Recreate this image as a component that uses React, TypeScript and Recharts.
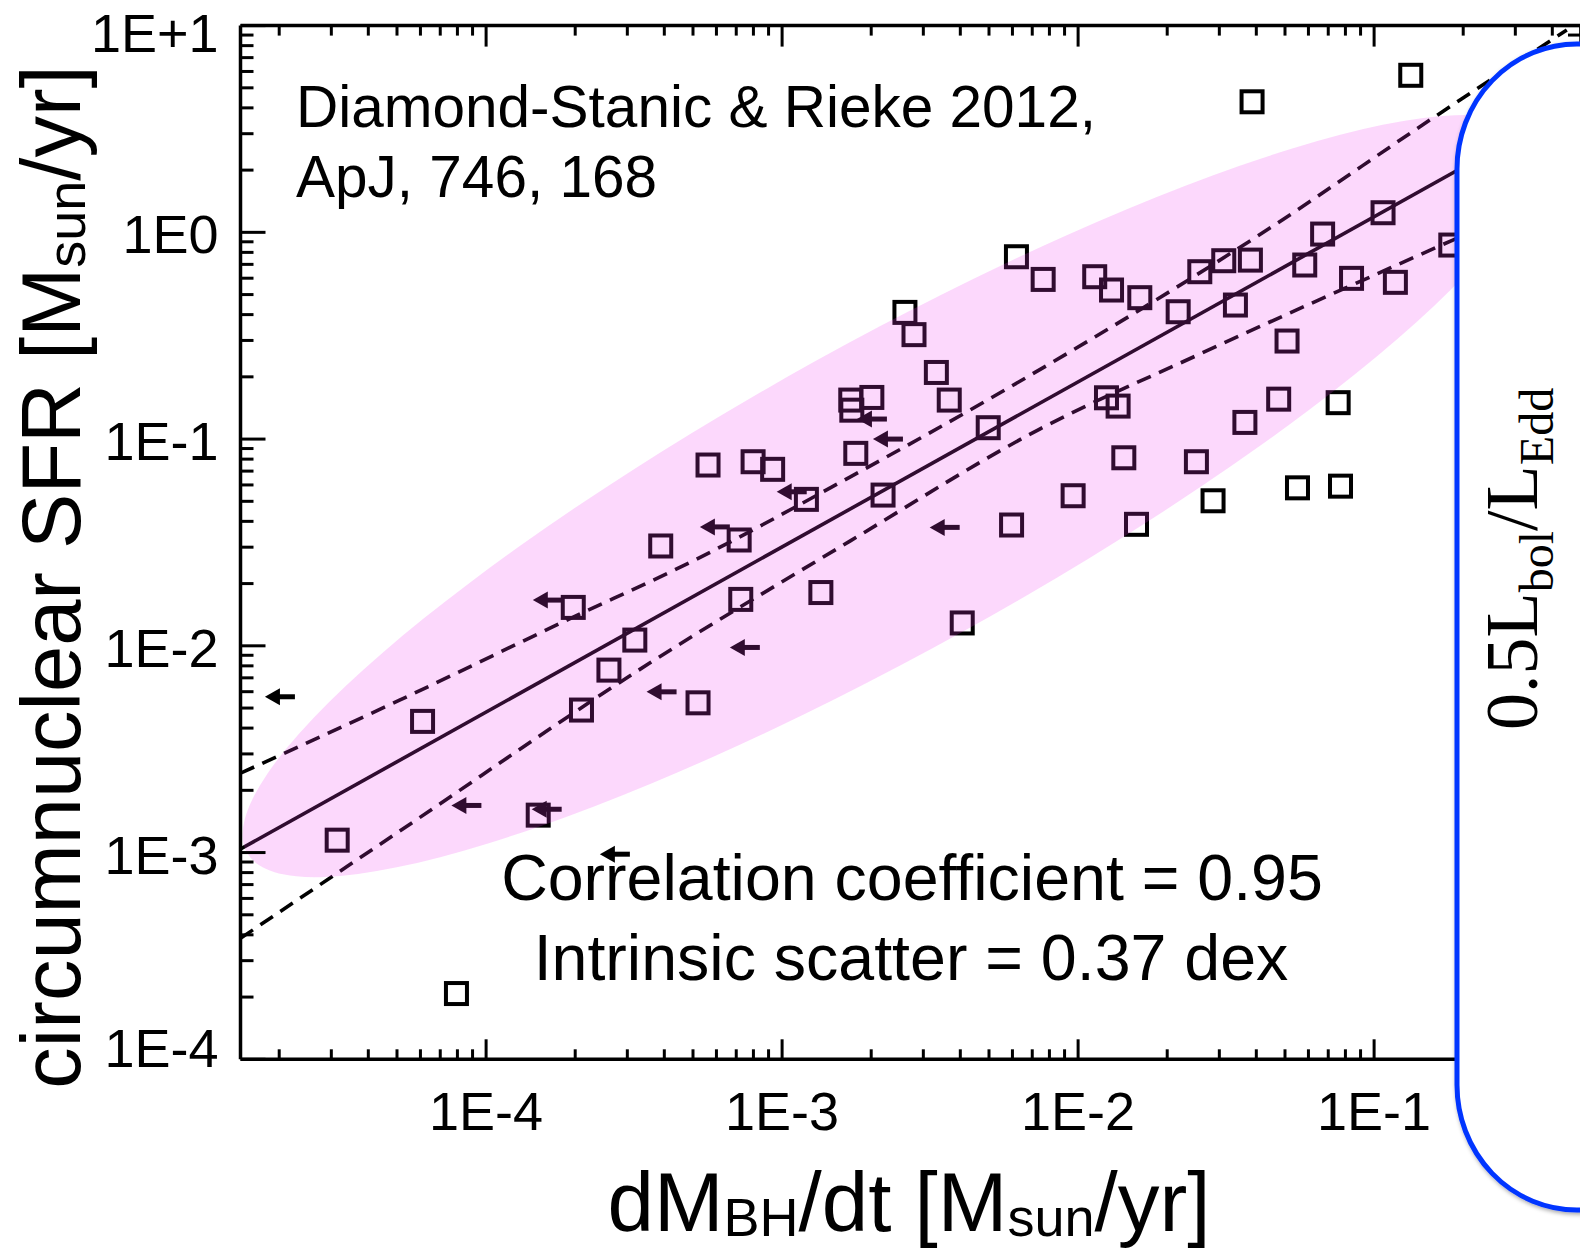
import React from 'react';
import { ComposedChart, Scatter, Line, XAxis, YAxis } from 'recharts';

// ---------- data ----------
const X_MIN = 1.48e-5;
const X_MAX = 0.5;
const Y_MIN = 1e-4;
const Y_MAX = 10;

const X_MAJOR = [1e-4, 1e-3, 1e-2, 1e-1];
const X_LABELS = ['1E-4', '1E-3', '1E-2', '1E-1'];
const Y_MAJOR = [1e-4, 1e-3, 1e-2, 1e-1, 1, 10];
const Y_LABELS = ['1E-4', '1E-3', '1E-2', '1E-1', '1E0', '1E+1'];

// detections (open squares)
const SQUARE_X = [
  0.133, 0.0387, 0.00619, 0.00762, 0.01138, 0.01297, 0.01616, 0.02178, 0.02577, 0.03105,
  0.0382, 0.034, 0.0583, 0.067, 0.1072, 0.0839, 0.118, 0.1816, 0.0508, 0.0476,
  0.0756, 0.0366, 0.01247, 0.01365, 0.01427, 0.0251, 0.0551, 0.077, 0.00962, 0.02857,
  0.00596, 0.01575, 0.00406, 0.00497, 0.00367, 0.00332, 0.00279, 0.0026, 0.00201, 0.001706,
  0.00172, 0.001774, 0.002193, 0.001208, 0.000929, 0.000798, 0.000562, 0.000716, 0.000389, 0.001352,
  0.000725, 0.000197, 0.000318, 0.00026, 0.00021, 0.00052, 6.1e-5, 3.14e-5, 0.00015, 7.94e-5,
];
const SQUARE_Y = [
  5.75, 4.28, 0.762, 0.592, 0.61, 0.526, 0.483, 0.413, 0.645, 0.729,
  0.734, 0.445, 0.695, 0.981, 1.244, 0.599, 0.573, 0.868, 0.298, 0.156,
  0.15, 0.1204, 0.1584, 0.1444, 0.0812, 0.0777, 0.0581, 0.0592, 0.0532, 0.0503,
  0.0384, 0.0387, 0.0129, 0.1135, 0.1544, 0.21, 0.32, 0.41, 0.159, 0.1544,
  0.138, 0.0853, 0.0536, 0.0511, 0.0714, 0.0777, 0.0749, 0.0325, 0.0304, 0.0181,
  0.01677, 0.01534, 0.01066, 0.00763, 0.00489, 0.0053, 0.00431, 0.001148, 0.001517, 0.000208,
];

// upper limits on accretion rate (left arrows)
const LIMIT_X = [2.26e-5, 9.64e-5, 1.8e-4, 3.06e-4, 1.816e-4, 4.4e-4, 8.41e-4, 6.66e-4, 1.211e-3, 2.26e-3, 2.56e-3, 3.98e-3];
const LIMIT_Y = [0.00567, 0.00169, 0.00162, 0.000982, 0.01664, 0.00599, 0.00982, 0.0376, 0.0556, 0.125, 0.1, 0.0374];

// best fit
const FIT_X = [1.48e-5, 0.5];
const FIT_Y = [1.04e-3, 4.3];

// dashed envelopes
const UPPER_X = [1.48e-5, 5.1e-5, 1.875e-4, 4.99e-4, 1.695e-3, 5.43e-3, 0.0434, 0.1579, 0.4477];
const UPPER_Y = [2.42e-3, 5.46e-3, 0.01331, 0.0257, 0.0655, 0.167, 1.026, 3.57, 9.52];
const LOWER_X = [1.48e-5, 5.1e-5, 3.57e-4, 1.695e-3, 7.42e-3, 0.02576, 0.1845, 0.5];
const LOWER_Y = [3.85e-4, 1.269e-3, 8.25e-3, 0.0321, 0.1118, 0.2577, 0.918, 1.732];

// pink ellipse: centre, end of major semi-axis, end of minor semi-axis
const ELLIPSE_X = [2.31e-3, 0.343, 4.13e-3];
const ELLIPSE_Y = [0.053, 2.81, 0.01182];

// ---------- derived tables ----------
const zip = (xs: number[], ys: number[]) => xs.map((x, i) => ({ x, y: ys[i] }));
const squares = zip(SQUARE_X, SQUARE_Y);
const limits = zip(LIMIT_X, LIMIT_Y);
const fit = zip(FIT_X, FIT_Y);
const upper = zip(UPPER_X, UPPER_Y);
const lower = zip(LOWER_X, LOWER_Y);
const ellipse = zip(ELLIPSE_X, ELLIPSE_Y);

const withMinors = (lo: number, hi: number) => {
  const out: number[] = [];
  for (let k = Math.floor(Math.log10(lo)); k <= Math.ceil(Math.log10(hi)); k++) {
    for (let m = 1; m <= 9; m++) {
      const v = m * Math.pow(10, k);
      if (v >= lo * 0.999999 && v <= hi * 1.000001) out.push(v);
    }
  }
  return out;
};
const X_TICKS = withMinors(X_MIN, X_MAX);
const Y_TICKS = withMinors(Y_MIN, Y_MAX);

const majorIndex = (v: number, majors: number[]) =>
  majors.findIndex((m) => Math.abs(Math.log10(v) - Math.log10(m)) < 1e-6);

const SANS = '"Liberation Sans", Arial, Helvetica, sans-serif';
const TICK_FONT = 54;
const INK = '#000';

const BottomTick = (p: any) => {
  const { x, y, payload } = p;
  const i = majorIndex(payload.value, X_MAJOR);
  return (
    <g>
      <line x1={x} x2={x} y1={y} y2={y - (i >= 0 ? 20 : 10)} stroke={INK} strokeWidth={3} />
      {i >= 0 && (
        <text x={x} y={y + 71} textAnchor="middle" fontSize={TICK_FONT} fontFamily={SANS} fill={INK}>
          {X_LABELS[i]}
        </text>
      )}
    </g>
  );
};
const TopTick = (p: any) => {
  const { x, y, payload } = p;
  const i = majorIndex(payload.value, X_MAJOR);
  return <line x1={x} x2={x} y1={y} y2={y + (i >= 0 ? 21 : 10)} stroke={INK} strokeWidth={3} />;
};
const LeftTick = (p: any) => {
  const { x, y, payload } = p;
  const i = majorIndex(payload.value, Y_MAJOR);
  const off = i === 0 ? 8 : i === Y_MAJOR.length - 1 ? 26 : 21;
  return (
    <g>
      <line x1={x} x2={x + (i >= 0 ? 25 : 13)} y1={y} y2={y} stroke={INK} strokeWidth={3} />
      {i >= 0 && (
        <text x={x - 22} y={y + off} textAnchor="end" fontSize={TICK_FONT} fontFamily={SANS} fill={INK}>
          {Y_LABELS[i]}
        </text>
      )}
    </g>
  );
};
const RightTick = (p: any) => {
  const { x, y, payload } = p;
  const i = majorIndex(payload.value, Y_MAJOR);
  return <line x1={x} x2={x - (i >= 0 ? 25 : 13)} y1={y} y2={y} stroke={INK} strokeWidth={3} />;
};

const SquareShape = (p: any) => {
  const { cx, cy } = p;
  if (cx == null || cy == null) return <g />;
  return <rect x={cx - 10.5} y={cy - 10.5} width={21} height={21} fill="none" stroke={INK} strokeWidth={4} />;
};
const ArrowShape = (p: any) => {
  const { cx, cy } = p;
  if (cx == null || cy == null) return <g />;
  return (
    <g>
      <line x1={cx} y1={cy} x2={cx - 16} y2={cy} stroke={INK} strokeWidth={5} />
      <polygon points={`${cx - 30},${cy} ${cx - 15},${cy - 8.5} ${cx - 15},${cy + 8.5}`} fill={INK} />
    </g>
  );
};
const Nothing = () => <g />;
const EllipseFill = (lp: any) => {
  const pts = lp.points || [];
  if (pts.length < 3) return <g />;
  const [c, a, b] = pts;
  const m = `matrix(${a.x - c.x},${a.y - c.y},${b.x - c.x},${b.y - c.y},${c.x},${c.y})`;
  return <circle cx={0} cy={0} r={1} transform={m} fill="rgb(240,60,240)" fillOpacity={0.2} stroke="none" />;
};

const axisLine = { stroke: INK, strokeWidth: 3.5 };

export default function App() {
  return (
    <div style={{ position: 'fixed', left: 0, top: 0, width: 1580, height: 1248, overflow: 'hidden', background: '#fff' }}>
      <ComposedChart width={1582} height={1248} margin={{ top: 24.6, right: 0, bottom: 0, left: 0 }}>
        <XAxis
          xAxisId="b" type="number" dataKey="x" scale="log" domain={[X_MIN, X_MAX]} allowDataOverflow
          ticks={X_TICKS} interval={0} tickSize={0} tickMargin={0} height={188.7}
          axisLine={axisLine} tickLine={false} tick={BottomTick}
        />
        <XAxis
          xAxisId="t" orientation="top" type="number" dataKey="x" scale="log" domain={[X_MIN, X_MAX]} allowDataOverflow
          ticks={X_TICKS} interval={0} tickSize={0} tickMargin={0} height={1}
          axisLine={axisLine} tickLine={false} tick={TopTick}
        />
        <YAxis
          yAxisId="l" type="number" dataKey="y" scale="log" domain={[Y_MIN, Y_MAX]} allowDataOverflow
          ticks={Y_TICKS} interval={0} tickSize={0} tickMargin={0} width={240.5}
          axisLine={axisLine} tickLine={false} tick={LeftTick}
        />
        <YAxis
          yAxisId="r" orientation="right" type="number" dataKey="y" scale="log" domain={[Y_MIN, Y_MAX]} allowDataOverflow
          ticks={Y_TICKS} interval={0} tickSize={0} tickMargin={0} width={1}
          axisLine={axisLine} tickLine={false} tick={RightTick}
        />
        <Line xAxisId="b" yAxisId="l" data={fit} dataKey="y" type="linear" stroke={INK} strokeWidth={3.6}
          dot={false} activeDot={false} isAnimationActive={false} />
        <Line xAxisId="b" yAxisId="l" data={upper} dataKey="y" type="monotone" stroke={INK} strokeWidth={3.6}
          strokeDasharray="15 9" dot={false} activeDot={false} isAnimationActive={false} />
        <Line xAxisId="b" yAxisId="l" data={lower} dataKey="y" type="monotone" stroke={INK} strokeWidth={3.6}
          strokeDasharray="15 9" dot={false} activeDot={false} isAnimationActive={false} />
        <Scatter xAxisId="t" yAxisId="r" data={fit} shape={Nothing} isAnimationActive={false} />
        <Scatter xAxisId="b" yAxisId="l" data={squares} shape={SquareShape} isAnimationActive={false} />
        <Scatter xAxisId="b" yAxisId="l" data={limits} shape={ArrowShape} isAnimationActive={false} />
        <Scatter xAxisId="b" yAxisId="l" data={ellipse} shape={Nothing} line={EllipseFill} lineType="joint"
          isAnimationActive={false} />
      </ComposedChart>

      <svg width={1580} height={1248} style={{ position: 'absolute', left: 0, top: 0, pointerEvents: 'none' }}>
        <defs>
          <filter id="shadow" x="-10%" y="-10%" width="120%" height="120%">
            <feDropShadow dx="1" dy="2" stdDeviation="2" floodColor="#000" floodOpacity="0.35" />
          </filter>
        </defs>
        <g fontFamily={SANS} fill={INK}>
          <text x={296} y={127} fontSize={58.5}>Diamond-Stanic &amp; Rieke 2012,</text>
          <text x={296} y={197} fontSize={58.5}>ApJ, 746, 168</text>
          <text x={912} y={900} fontSize={64.5} textAnchor="middle">Correlation coefficient = 0.95</text>
          <text x={911} y={980} fontSize={64.5} textAnchor="middle">Intrinsic scatter = 0.37 dex</text>
          <text x={909} y={1231} fontSize={83.5} textAnchor="middle">
            dM<tspan fontSize={54} dy={5}>BH</tspan>
            <tspan dy={-5}>/dt [M</tspan>
            <tspan fontSize={54} dy={5}>sun</tspan>
            <tspan dy={-5}>/yr]</tspan>
          </text>
          <text transform="translate(80,577) rotate(-90)" fontSize={83} textAnchor="middle">
            circumnuclear SFR [M<tspan fontSize={54} dy={5}>sun</tspan>
            <tspan dy={-5}>/yr]</tspan>
          </text>
        </g>
        <rect x={1457} y={44} width={400} height={1166} rx={120} ry={125} fill="#fff" stroke="#0535ff" strokeWidth={5}
          filter="url(#shadow)" />
        <text transform="translate(1537,730) rotate(-90)" fontFamily='"Liberation Serif", "DejaVu Serif", serif'
          fontSize={74} fill={INK}>
          0.5L<tspan fontSize={48} dy={16}>bol</tspan>
          <tspan dy={-16}>/L</tspan>
          <tspan fontSize={48} dy={16}>Edd</tspan>
        </text>
      </svg>
    </div>
  );
}
